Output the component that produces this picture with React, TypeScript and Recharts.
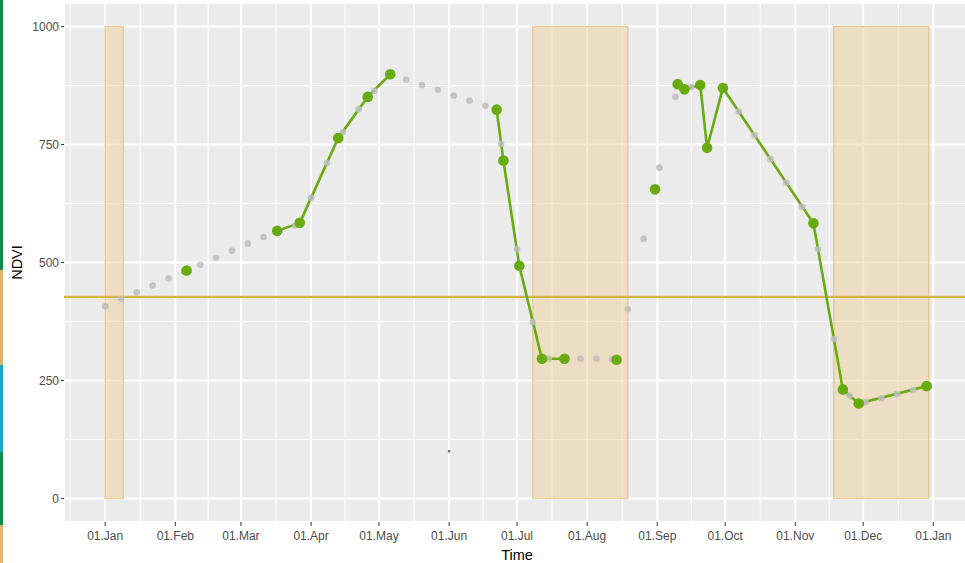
import React from 'react';
import {
  ComposedChart, Line, Scatter, XAxis, YAxis, CartesianGrid,
  ReferenceArea, ReferenceLine,
} from 'recharts';

// Day-of-year ticks (leap year) and their labels
const MONTH_TICKS = [0, 31, 60, 91, 121, 152, 182, 213, 244, 274, 305, 335, 366];
const MONTH_LABELS = [
  '01.Jan', '01.Feb', '01.Mar', '01.Apr', '01.May', '01.Jun', '01.Jul',
  '01.Aug', '01.Sep', '01.Oct', '01.Nov', '01.Dec', '01.Jan',
];
const MINOR_DAYS = [-15.5, 15.5, 45.5, 75.5, 106, 136.5, 167, 197.5, 228.5, 259, 289.5, 320, 350.5, 381.5];
const NDVI_TICKS = [0, 250, 500, 750, 1000];
const NDVI_MINOR = [125, 375, 625, 875];

// Weekly interpolated series (grey dots)
const WEEK_DAYS = [
  0, 7, 14, 21, 28, 35, 42, 49, 56, 63, 70, 77, 84, 91, 98, 105, 112, 119, 126, 133,
  140, 147, 154, 161, 168, 175, 182, 189, 196, 203, 210, 217, 224, 231, 238, 245, 252,
  259, 266, 273, 280, 287, 294, 301, 308, 315, 322, 329, 336, 343, 350, 357, 364,
];
const WEEK_NDVI = [
  407, 423, 437, 451, 466, 480, 495, 510, 525, 540, 554, 567, 578, 637, 711, 776, 825, 864, 899, 888,
  876, 866, 854, 843, 832, 751, 528, 374, 296, 296, 296, 296, 295, 401, 550, 701, 851,
  872, 745, 870, 820, 770, 719, 669, 618, 528, 338, 218, 204, 212, 221, 229, 239,
];

// Clear-sky observations; run 0 = isolated point, others are connected runs
const OBS_DAYS = [36, 76, 86, 103, 116, 126, 173, 176, 183, 193, 203, 226, 243, 253, 256, 263, 266, 273, 313, 326, 333, 363];
const OBS_NDVI = [483, 567, 584, 764, 851, 899, 824, 716, 493, 296, 296, 294, 655, 878, 867, 876, 743, 870, 583, 231, 201, 238];
const OBS_RUN = [0, 1, 1, 1, 1, 1, 2, 2, 2, 2, 2, 0, 0, 3, 3, 3, 3, 3, 3, 3, 3, 3];

// Flagged periods
const FLAG_START = [0, 189, 322];
const FLAG_END = [8, 231, 364];

const OUTLIER_DAYS = [152];
const OUTLIER_NDVI = [100];

const THRESHOLD = 427;

const GREEN = '#68ab10';
const FONT = '"Liberation Sans", Arial, sans-serif';

const weekly = WEEK_DAYS.map((day, i) => ({ day, ndvi: WEEK_NDVI[i] }));
const observed = OBS_DAYS.map((day, i) => ({ day, ndvi: OBS_NDVI[i], run: OBS_RUN[i] }));
const runs = Array.from(new Set(OBS_RUN.filter((r) => r > 0)));
const outliers = OUTLIER_DAYS.map((day, i) => ({ day, ndvi: OUTLIER_NDVI[i] }));

const STRIP = [
  { h: 270, c: '#12894f' },
  { h: 95, c: '#dfb56c' },
  { h: 87, c: '#1ba6c2' },
  { h: 73, c: '#12894f' },
  { h: 38, c: '#e2b46e' },
];

export default function App() {
  return (
    <div style={{ position: 'absolute', left: 0, top: 0, width: 965, height: 563, overflow: 'hidden', background: '#fff' }}>
      <div style={{ position: 'absolute', left: 0, top: 0, width: 3, zIndex: 2 }}>
        {STRIP.map((s, i) => <div key={i} style={{ height: s.h, background: s.c }} />)}
      </div>
      <ComposedChart
        width={970}
        height={563}
        margin={{ top: 3, right: 0, bottom: 0, left: 0 }}
        style={{ fontFamily: FONT }}
      >
        <CartesianGrid
          fill="#ebebeb"
          stroke="#ffffff"
          strokeWidth={1}
          horizontalValues={NDVI_MINOR}
          verticalValues={MINOR_DAYS}
        />
        <CartesianGrid stroke="#ffffff" strokeWidth={2} />
        <XAxis
          type="number"
          dataKey="day"
          domain={[-18.2, 382.2]}
          allowDataOverflow
          ticks={MONTH_TICKS}
          tickFormatter={(v: number) => MONTH_LABELS[MONTH_TICKS.indexOf(v)]}
          height={41}
          tickSize={4}
          tickMargin={5}
          axisLine={false}
          tickLine={{ stroke: '#333333' }}
          tick={{ fontSize: 12, fill: '#4d4d4d' }}
          interval={0}
          label={{ value: 'Time', position: 'insideBottom', offset: 3, fontSize: 14.5, fill: '#000' }}
        />
        <YAxis
          type="number"
          domain={[-50, 1050]}
          allowDataOverflow
          ticks={NDVI_TICKS}
          width={64}
          tickSize={3}
          tickMargin={2}
          axisLine={false}
          tickLine={{ stroke: '#333333' }}
          tick={{ fontSize: 12, fill: '#4d4d4d' }}
          interval={0}
          label={{
            value: 'NDVI',
            content: ({ viewBox }: any) => {
              const cx = viewBox.x + 17;
              const cy = viewBox.y + viewBox.height / 2;
              return (
                <text x={cx} y={cy} transform={`rotate(-90, ${cx}, ${cy})`} textAnchor="middle"
                  dominantBaseline="central" fontSize={14.5} fill="#000" fontFamily={FONT}>
                  NDVI
                </text>
              );
            },
          }}
        />
        {FLAG_START.map((x1, i) => (
          <ReferenceArea
            key={`flag-${i}`}
            x1={x1}
            x2={FLAG_END[i]}
            y1={0}
            y2={1000}
            fill="#f0d09a"
            fillOpacity={0.5}
            stroke="#e2c48c"
            strokeOpacity={0.8}
            strokeWidth={1.5}
          />
        ))}
        <Scatter
          data={weekly}
          dataKey="ndvi"
          isAnimationActive={false}
          shape={(p: any) => <circle cx={p.cx} cy={p.cy} r={3.3} fill="#bdbdbd" fillOpacity={0.85} />}
        />
        <ReferenceLine y={THRESHOLD} stroke="#d4b24c" strokeWidth={2.2} />
        {runs.map((r) => (
          <Line
            key={`run-${r}`}
            data={observed.filter((o) => o.run === r)}
            dataKey="ndvi"
            stroke={GREEN}
            strokeWidth={2.6}
            dot={false}
            activeDot={false}
            isAnimationActive={false}
          />
        ))}
        <Scatter
          data={observed}
          dataKey="ndvi"
          isAnimationActive={false}
          shape={(p: any) => <circle cx={p.cx} cy={p.cy} r={5.3} fill={GREEN} />}
        />
        <Scatter
          data={outliers}
          dataKey="ndvi"
          isAnimationActive={false}
          shape={(p: any) => <circle cx={p.cx} cy={p.cy} r={1.2} fill="#666" />}
        />
      </ComposedChart>
    </div>
  );
}
